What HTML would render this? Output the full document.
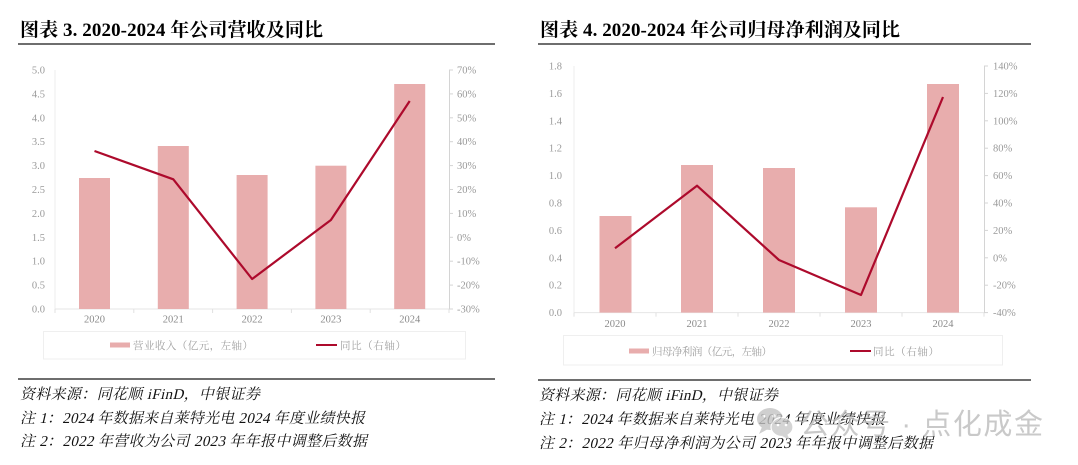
<!DOCTYPE html>
<html>
<head>
<meta charset="utf-8">
<style>
  html, body { margin:0; padding:0; background:#fff; }
  body { width:1078px; height:465px; overflow:hidden; }
  svg { display:block; }
  .title { font-family:"Liberation Serif","Noto Serif CJK SC",serif; font-weight:bold; font-size:19px; fill:#000; }
  .tick { font-family:"Liberation Serif","Noto Serif CJK SC",serif; font-size:10.5px; fill:#9a9a9a; }
  .year { font-family:"Liberation Serif","Noto Serif CJK SC",serif; font-size:10.5px; fill:#8a8a8a; }
  .leg { font-family:"Liberation Serif","Noto Serif CJK SC",serif; font-size:10.5px; fill:#a0a0a0; }
  .note { font-family:"Liberation Serif","Noto Serif CJK SC",serif; font-style:normal; font-size:15px; fill:#111; }
  .wm { font-family:"Liberation Sans","Noto Sans CJK SC",sans-serif; font-size:29px; fill:#bcbcbc; }
</style>
</head>
<body>
<svg width="1078" height="465" viewBox="0 0 1078 465" xmlns="http://www.w3.org/2000/svg">
  <!-- ================= LEFT CHART ================= -->
  <text class="title" x="20" y="36" textLength="303" lengthAdjust="spacing">图表 3. 2020-2024 年公司营收及同比</text>
  <rect x="18" y="43" width="477" height="2" fill="#6e6e6e"/>

  <line x1="55" y1="70" x2="55" y2="309" stroke="#ececec" stroke-width="1"/>
  <line x1="55" y1="309" x2="449" y2="309" stroke="#e6e6e6" stroke-width="1"/>
  <line x1="449.5" y1="70" x2="449.5" y2="309" stroke="#d4d4d4" stroke-width="1"/>
  <g stroke="#e0e0e0" stroke-width="1">
    <line x1="55" y1="309" x2="55" y2="313"/>
    <line x1="133.8" y1="309" x2="133.8" y2="313"/>
    <line x1="212.6" y1="309" x2="212.6" y2="313"/>
    <line x1="291.4" y1="309" x2="291.4" y2="313"/>
    <line x1="370.2" y1="309" x2="370.2" y2="313"/>
    <line x1="449" y1="309" x2="449" y2="313"/>
  </g>
  <g stroke="#d4d4d4" stroke-width="1">
    <line x1="449" y1="70" x2="453" y2="70"/>
    <line x1="449" y1="93.9" x2="453" y2="93.9"/>
    <line x1="449" y1="117.8" x2="453" y2="117.8"/>
    <line x1="449" y1="141.7" x2="453" y2="141.7"/>
    <line x1="449" y1="165.6" x2="453" y2="165.6"/>
    <line x1="449" y1="189.5" x2="453" y2="189.5"/>
    <line x1="449" y1="213.4" x2="453" y2="213.4"/>
    <line x1="449" y1="237.3" x2="453" y2="237.3"/>
    <line x1="449" y1="261.2" x2="453" y2="261.2"/>
    <line x1="449" y1="285.1" x2="453" y2="285.1"/>
    <line x1="449" y1="309" x2="453" y2="309"/>
  </g>
  <g class="tick" text-anchor="end">
    <text x="45" y="73.5">5.0</text>
    <text x="45" y="97.4">4.5</text>
    <text x="45" y="121.3">4.0</text>
    <text x="45" y="145.2">3.5</text>
    <text x="45" y="169.1">3.0</text>
    <text x="45" y="193">2.5</text>
    <text x="45" y="216.9">2.0</text>
    <text x="45" y="240.8">1.5</text>
    <text x="45" y="264.7">1.0</text>
    <text x="45" y="288.6">0.5</text>
    <text x="45" y="312.5">0.0</text>
  </g>
  <g class="tick">
    <text x="457" y="73.5">70%</text>
    <text x="457" y="97.4">60%</text>
    <text x="457" y="121.3">50%</text>
    <text x="457" y="145.2">40%</text>
    <text x="457" y="169.1">30%</text>
    <text x="457" y="193">20%</text>
    <text x="457" y="216.9">10%</text>
    <text x="457" y="240.8">0%</text>
    <text x="457" y="264.7">-10%</text>
    <text x="457" y="288.6">-20%</text>
    <text x="457" y="312.5">-30%</text>
  </g>
  <g fill="#e8adad">
    <rect x="79" y="178" width="31" height="131"/>
    <rect x="157.8" y="146" width="31" height="163"/>
    <rect x="236.6" y="175" width="31" height="134"/>
    <rect x="315.4" y="165.7" width="31" height="143.3"/>
    <rect x="394.2" y="84" width="31" height="225"/>
  </g>
  <polyline points="94.5,151 173.3,179.3 252.1,279 330.9,220 409.7,101" fill="none" stroke="#ad0a2c" stroke-width="2.2" stroke-linejoin="round"/>
  <g class="year" text-anchor="middle">
    <text x="94.5" y="322.5">2020</text>
    <text x="173.3" y="322.5">2021</text>
    <text x="252.1" y="322.5">2022</text>
    <text x="330.9" y="322.5">2023</text>
    <text x="409.7" y="322.5">2024</text>
  </g>
  <rect x="43.5" y="331.5" width="422" height="27.5" fill="none" stroke="#efefef" stroke-width="1"/>
  <rect x="110" y="342.5" width="20" height="5" fill="#e8adad"/>
  <text class="leg" x="133" y="349" textLength="120" lengthAdjust="spacing">营业收入（亿元，左轴）</text>
  <line x1="316" y1="345" x2="337" y2="345" stroke="#ad0a2c" stroke-width="2"/>
  <text class="leg" x="340" y="349" textLength="66" lengthAdjust="spacing">同比（右轴）</text>

  <rect x="18" y="378" width="477" height="2" fill="#6e6e6e"/>
  <g transform="translate(20,399) skewX(-13)"><text class="note" x="0" y="0" textLength="240" lengthAdjust="spacing">资料来源：同花顺 iFinD，中银证券</text></g>
  <g transform="translate(20,423) skewX(-13)"><text class="note" x="0" y="0" textLength="345" lengthAdjust="spacing">注 1：2024 年数据来自莱特光电 2024 年度业绩快报</text></g>
  <g transform="translate(20,446) skewX(-13)"><text class="note" x="0" y="0" textLength="347" lengthAdjust="spacing">注 2：2022 年营收为公司 2023 年年报中调整后数据</text></g>

  <!-- ================= RIGHT CHART ================= -->
  <text class="title" x="540" y="36" textLength="360" lengthAdjust="spacing">图表 4. 2020-2024 年公司归母净利润及同比</text>
  <rect x="538" y="43" width="493" height="2" fill="#6e6e6e"/>

  <line x1="574" y1="66" x2="574" y2="312.6" stroke="#ececec" stroke-width="1"/>
  <line x1="574" y1="312.6" x2="984" y2="312.6" stroke="#e6e6e6" stroke-width="1"/>
  <line x1="984.5" y1="66" x2="984.5" y2="312.6" stroke="#d4d4d4" stroke-width="1"/>
  <g stroke="#e0e0e0" stroke-width="1">
    <line x1="574" y1="312.6" x2="574" y2="316.6"/>
    <line x1="656" y1="312.6" x2="656" y2="316.6"/>
    <line x1="738" y1="312.6" x2="738" y2="316.6"/>
    <line x1="820" y1="312.6" x2="820" y2="316.6"/>
    <line x1="902" y1="312.6" x2="902" y2="316.6"/>
    <line x1="984" y1="312.6" x2="984" y2="316.6"/>
  </g>
  <g stroke="#d4d4d4" stroke-width="1">
    <line x1="984" y1="66" x2="988" y2="66"/>
    <line x1="984" y1="93.4" x2="988" y2="93.4"/>
    <line x1="984" y1="120.8" x2="988" y2="120.8"/>
    <line x1="984" y1="148.2" x2="988" y2="148.2"/>
    <line x1="984" y1="175.6" x2="988" y2="175.6"/>
    <line x1="984" y1="203" x2="988" y2="203"/>
    <line x1="984" y1="230.4" x2="988" y2="230.4"/>
    <line x1="984" y1="257.8" x2="988" y2="257.8"/>
    <line x1="984" y1="285.2" x2="988" y2="285.2"/>
    <line x1="984" y1="312.6" x2="988" y2="312.6"/>
  </g>
  <g class="tick" text-anchor="end">
    <text x="562" y="69.5">1.8</text>
    <text x="562" y="96.9">1.6</text>
    <text x="562" y="124.3">1.4</text>
    <text x="562" y="151.7">1.2</text>
    <text x="562" y="179.1">1.0</text>
    <text x="562" y="206.5">0.8</text>
    <text x="562" y="233.9">0.6</text>
    <text x="562" y="261.3">0.4</text>
    <text x="562" y="288.7">0.2</text>
    <text x="562" y="316.1">0.0</text>
  </g>
  <g class="tick">
    <text x="993" y="69.5">140%</text>
    <text x="993" y="96.9">120%</text>
    <text x="993" y="124.3">100%</text>
    <text x="993" y="151.7">80%</text>
    <text x="993" y="179.1">60%</text>
    <text x="993" y="206.5">40%</text>
    <text x="993" y="233.9">20%</text>
    <text x="993" y="261.3">0%</text>
    <text x="993" y="288.7">-20%</text>
    <text x="993" y="316.1">-40%</text>
  </g>
  <g fill="#e8adad">
    <rect x="599.5" y="216" width="32" height="96.6"/>
    <rect x="681" y="165" width="32" height="147.6"/>
    <rect x="763" y="168" width="32" height="144.6"/>
    <rect x="845" y="207.3" width="32" height="105.3"/>
    <rect x="927" y="84" width="32" height="228.6"/>
  </g>
  <polyline points="615,248.3 697,185.7 779,260 861,295 943,97" fill="none" stroke="#ad0a2c" stroke-width="2.2" stroke-linejoin="round"/>
  <g class="year" text-anchor="middle">
    <text x="615" y="327">2020</text>
    <text x="697" y="327">2021</text>
    <text x="779" y="327">2022</text>
    <text x="861" y="327">2023</text>
    <text x="943" y="327">2024</text>
  </g>
  <rect x="563.5" y="335.5" width="439" height="29.5" fill="none" stroke="#efefef" stroke-width="1"/>
  <rect x="629" y="348.5" width="20" height="5" fill="#e8adad"/>
  <text class="leg" x="652" y="355" textLength="120" lengthAdjust="spacing">归母净利润（亿元，左轴）</text>
  <line x1="850" y1="351" x2="871" y2="351" stroke="#ad0a2c" stroke-width="2"/>
  <text class="leg" x="873" y="355" textLength="66" lengthAdjust="spacing">同比（右轴）</text>

  <rect x="538" y="379" width="493" height="2" fill="#6e6e6e"/>
  <g transform="translate(539,400) skewX(-13)"><text class="note" x="0" y="0" textLength="239" lengthAdjust="spacing">资料来源：同花顺 iFinD，中银证券</text></g>
  <g transform="translate(539,424) skewX(-13)"><text class="note" x="0" y="0" textLength="346" lengthAdjust="spacing">注 1：2024 年数据来自莱特光电 2024 年度业绩快报</text></g>
  <g transform="translate(539,448) skewX(-13)"><text class="note" x="0" y="0" textLength="394" lengthAdjust="spacing">注 2：2022 年归母净利润为公司 2023 年年报中调整后数据</text></g>

  <!-- watermark -->
  <g opacity="0.8">
    <ellipse cx="770" cy="419" rx="13" ry="11" fill="#c4c4c4"/>
    <path d="M762 427 L759 434 L768 429 Z" fill="#c4c4c4"/>
    <ellipse cx="782" cy="427" rx="11" ry="9.5" fill="#cacaca" stroke="#fff" stroke-width="1.2"/>
    <path d="M787 434 L790 440 L782 436 Z" fill="#cacaca"/>
    <circle cx="765" cy="416" r="1.6" fill="#fff"/>
    <circle cx="774" cy="416" r="1.6" fill="#fff"/>
    <circle cx="778" cy="425" r="1.3" fill="#fff"/>
    <circle cx="786" cy="425" r="1.3" fill="#fff"/>
    <text class="wm" x="800" y="434" textLength="243" lengthAdjust="spacing">公众号 · 点化成金</text>
  </g>
</svg>
</body>
</html>
